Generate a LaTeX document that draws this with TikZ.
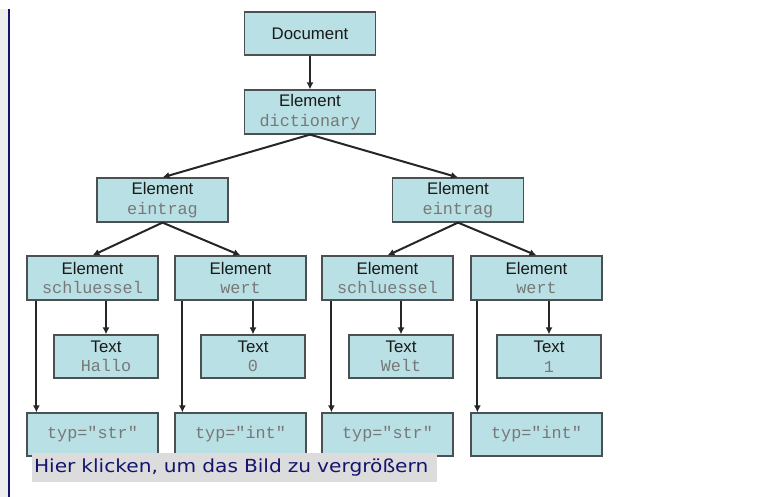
\documentclass[tikz,border=0pt]{standalone}
\usepackage{fontspec}
\setmainfont{Liberation Sans}
\setmonofont{Liberation Mono}
\newfontfamily\capfont[FakeStretch=1.12]{DejaVu Sans}
\usetikzlibrary{arrows.meta}

\definecolor{boxfill}{RGB}{185,224,228}
\definecolor{boxline}{RGB}{75,80,82}
\definecolor{codegray}{RGB}{120,120,120}
\definecolor{navy}{RGB}{20,20,110}
\definecolor{capgray}{RGB}{220,220,220}
\definecolor{stripgray}{RGB}{238,238,238}

\newcommand{\code}[1]{{\ttfamily\color{codegray}#1}}

\begin{document}
\begin{tikzpicture}[x=1pt,y=-1pt,line width=2pt]
\tikzset{box/.style={rectangle,draw=boxline,fill=boxfill,line width=1.2pt,
    minimum width=131pt,minimum height=43pt,inner sep=0pt,align=center,
    font=\fontsize{16.8}{19.5}\selectfont,text=black!90},
  txtbox/.style={box,minimum width=104pt},
  arr/.style={-{Latex[length=7pt,width=7pt]},line width=2pt,black!85}}
\useasboundingbox (0,0) rectangle (783,497);

% ---------- Rand links ----------
\fill[stripgray] (0,9) rectangle (7.5,497);
\draw[navy,line width=2.5pt] (8.75,9) -- (8.75,497);

% ---------- Wurzel ----------
\node[box] (doc) at (310,33.5) {Document};
\node[box,minimum height=44pt] (dict) at (310,112) {Element\\\code{dictionary}};

% ---------- Eintraege ----------
\node[box,minimum height=44pt] (eL) at (162.5,200) {Element\\\code{eintrag}};
\node[box,minimum height=44pt] (eR) at (458,200) {Element\\\code{eintrag}};

% ---------- Schluessel und Werte ----------
\node[box,minimum height=44pt] (sL) at (92.5,278) {Element\\\code{schluessel}};
\node[box,minimum height=44pt] (wL) at (240.5,278) {Element\\\code{wert}};
\node[box,minimum height=44pt] (sR) at (387.5,278) {Element\\\code{schluessel}};
\node[box,minimum height=44pt] (wR) at (536.5,278) {Element\\\code{wert}};

% ---------- Textknoten ----------
\node[txtbox] (tL1) at (106,356.5) {Text\\\code{Hallo}};
\node[txtbox] (tL2) at (253,356.5) {Text\\\code{0}};
\node[txtbox] (tR1) at (401,356.5) {Text\\\code{Welt}};
\node[txtbox] (tR2) at (549,356.5) {Text\\\code{1}};

% ---------- Attribute ----------
\node[box] (aL1) at (92.5,434.5) {\code{typ="str"}};
\node[box] (aL2) at (240.5,434.5) {\code{typ="int"}};
\node[box] (aR1) at (387.5,434.5) {\code{typ="str"}};
\node[box] (aR2) at (536.5,434.5) {\code{typ="int"}};

\draw[arr] (doc) -- (dict);
\draw[arr] (dict.south) -- (eL.north);
\draw[arr] (dict.south) -- (eR.north);
\draw[arr] (eL.south) -- (sL.north);
\draw[arr] (eL.south) -- (wL.north);
\draw[arr] (eR.south) -- (sR.north);
\draw[arr] (eR.south) -- (wR.north);

\draw[arr] (tL1.north |- sL.south) -- (tL1.north);
\draw[arr] (tL2.north |- wL.south) -- (tL2.north);
\draw[arr] (tR1.north |- sR.south) -- (tR1.north);
\draw[arr] (tR2.north |- wR.south) -- (tR2.north);

\draw[arr] ([xshift=10pt]sL.south west) -- ([xshift=10pt]aL1.north west);
\draw[arr] ([xshift=8pt]wL.south west) -- ([xshift=8pt]aL2.north west);
\draw[arr] ([xshift=10pt]sR.south west) -- ([xshift=10pt]aR1.north west);
\draw[arr] ([xshift=7pt]wR.south west) -- ([xshift=7pt]aR2.north west);

% ---------- Bildunterschrift ----------
\node[fill=capgray,text=navy,anchor=north west,inner sep=0pt,
  minimum width=405pt,minimum height=29pt,text width=401pt,
  font=\capfont\fontsize{18}{20}\selectfont] (cap) at (31,452)
  {Hier klicken, um das Bild zu vergrößern};
\end{tikzpicture}
\end{document}
